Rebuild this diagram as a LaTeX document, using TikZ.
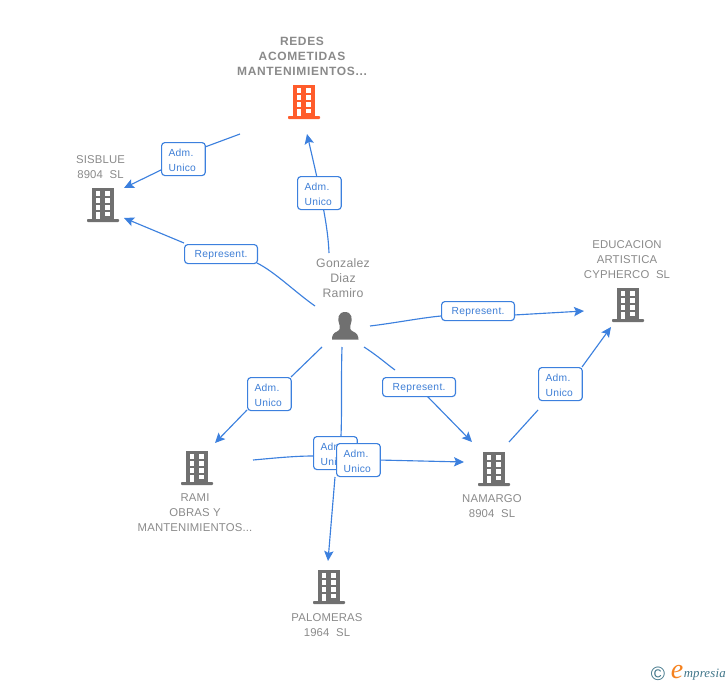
\documentclass[tikz,border=0pt]{standalone}
\usepackage{fontspec}
\usetikzlibrary{arrows.meta}
\setmainfont{Liberation Sans}
\newfontfamily\logoserif{Liberation Serif}
\definecolor{edgeblue}{HTML}{3C80DE}
\definecolor{labelblue}{HTML}{3F7FD6}
\definecolor{bgray}{HTML}{707070}
\definecolor{tgray}{HTML}{8A8A8A}
\definecolor{borange}{HTML}{FF5C2B}
\definecolor{logoblue}{HTML}{3E7488}
\definecolor{logoorange}{HTML}{F58220}
\newcommand{\admtxt}{\rule{0pt}{7.2pt}Adm.\\Unico}
\newcommand{\reptxt}{\rule{0pt}{6.6pt}Represent.}
\tikzset{
  conn/.style={draw=edgeblue,line width=0.85pt},
  arr/.style={conn,-{Stealth[length=7.5pt,width=7pt,inset=1.5pt]}},
  labbase/.style={draw=edgeblue,line width=0.85pt,fill=white,rounded corners=2.5pt,text=labelblue,inner ysep=0pt,anchor=north west},
  admlab/.style={labbase,font=\fontsize{7.7pt}{11.2pt}\selectfont\addfontfeature{LetterSpace=2.5},align=left,inner xsep=5.3pt,text width=22.2pt,minimum height=24.75pt},
  replab/.style={labbase,font=\fontsize{7.7pt}{9pt}\selectfont\addfontfeature{LetterSpace=3},align=center,inner xsep=0pt,text width=54.7pt,minimum height=14.25pt},
  nametext/.style={text=tgray,font=\fontsize{8.5pt}{11.2pt}\selectfont\addfontfeature{LetterSpace=1.5},align=center,inner sep=0pt},
  boldtext/.style={text=tgray,font=\fontsize{9pt}{11.2pt}\selectfont\bfseries\addfontfeature{LetterSpace=5.5},align=center,inner sep=0pt},
  persontext/.style={text=tgray,font=\fontsize{9.2pt}{11.2pt}\selectfont\addfontfeature{LetterSpace=2},align=center,inner sep=0pt},
  pics/bld/.style={code={
    \fill[#1] (-11,-17) rectangle (11,14.5);
    \fill[#1,rounded corners=0.6pt] (-16,14) rectangle (16,17);
    \foreach \yy in {-13.7,-6.7,0.3}{
      \fill[white] (-7.3,\yy) rectangle (-2.6,{\yy+4.6});
      \fill[white] (2.2,\yy) rectangle (6.9,{\yy+4.6});
    }
    \fill[white] (-7.3,6.8) rectangle (-2.6,14);
    \fill[white] (2.2,6.8) rectangle (6.9,11);
  }}
}
\begin{document}
\begin{tikzpicture}[x=0.75pt,y=-0.75pt]
\useasboundingbox (0,0) rectangle (728,685);
% named end points
\coordinate (p1a) at (329,253);
\coordinate (redesIn) at (307,134);
\coordinate (redesOut) at (240,134);
\coordinate (sisIn1) at (124,188);
\coordinate (sisIn2) at (124,218);
\coordinate (g1) at (315,306);
\coordinate (g2) at (370,326);
\coordinate (g3) at (322,347);
\coordinate (g4) at (364,347);
\coordinate (g5) at (342,347);
\coordinate (eduIn1) at (584,311);
\coordinate (eduIn2) at (611,327);
\coordinate (ramiIn) at (215,443);
\coordinate (ramiOut) at (253,460);
\coordinate (namIn1) at (472,442);
\coordinate (namIn2) at (464,462);
\coordinate (namOut) at (509,442);
\coordinate (palIn) at (328,561);
\coordinate (l2a) at (205,147);
\coordinate (l2b) at (161,170);
\coordinate (l3a) at (257,263);
\coordinate (l3b) at (184,243);
\coordinate (l4a) at (441,316);
\coordinate (l4b) at (514,315);
\coordinate (l5a) at (291,377);
\coordinate (l5b) at (247,410);
\coordinate (l6b) at (427,396);
\coordinate (l6a) at (395,370);
\coordinate (l7a) at (538,410);
\coordinate (l7b) at (582,367);
\coordinate (l8a) at (341,436);
\coordinate (l8b) at (313,456);
\coordinate (l9b) at (335,477);
% connectors under labels
\draw[arr] (p1a) .. controls (328,225) and (320,190) .. (redesIn);
\draw[conn] (redesOut) -- (l2a);
\draw[arr] (l2b) -- (sisIn1);
\draw[conn] (g1) .. controls (295,292) and (275,272) .. (l3a);
\draw[arr] (l3b) -- (sisIn2);
\draw[conn] (g2) .. controls (395,323) and (420,318) .. (l4a);
\draw[arr] (l4b) -- (eduIn1);
\draw[conn] (g3) -- (l5a);
\draw[arr] (l5b) -- (ramiIn);
\draw[conn] (g4) .. controls (378,356) and (388,365) .. (l6a);
\draw[arr] (l6b) -- (namIn1);
\draw[conn] (namOut) -- (l7a);
\draw[arr] (l7b) -- (eduIn2);
% labels
\node[admlab] (l1) at (297,176) {\admtxt};
\node[admlab] (l2) at (161,142) {\admtxt};
\node[replab] (l3) at (184,244) {\reptxt};
\node[replab] (l4) at (441,301) {\reptxt};
\node[admlab] (l5) at (247,377) {\admtxt};
\node[replab] (l6) at (382,377) {\reptxt};
\node[admlab] (l7) at (538,367) {\admtxt};
% overlapping pair
\draw[conn] (g5) .. controls (341,380) and (342,410) .. (l8a);
\draw[conn] (ramiOut) .. controls (275,458) and (295,456) .. (l8b);
\node[admlab] (l8) at (313,436) {\admtxt};
\draw[arr] (l9b) -- (palIn);
\node[admlab] (l9) at (336,443) {\admtxt};
\draw[arr] (l9.east) -- (namIn2);
% buildings
\path (304,102) pic {bld=borange};
\path (103,205) pic {bld=bgray};
\path (628,305) pic {bld=bgray};
\path (197,468) pic {bld=bgray};
\path (494,469) pic {bld=bgray};
\path (329,587) pic {bld=bgray};
% person
\fill[bgray] (345,312) .. controls (338,312) and (337,319) .. (339.5,325) .. controls (340.5,328) and (340,330) .. (337,331.5) .. controls (333,333) and (332,336) .. (332,339.5) -- (358.5,339.5) .. controls (358.5,336) and (357,333) .. (353,331.5) .. controls (350,330) and (349.5,328) .. (350.5,325) .. controls (353,319) and (352,312) .. (345,312) -- cycle;
% texts
\node[boldtext] (tredes) at (302,56) {REDES\\ACOMETIDAS\\MANTENIMIENTOS...};
\node[nametext] (tsis) at (100.5,167) {SISBLUE\\8904\ \ SL};
\node[persontext] (tgon) at (343,278) {Gonzalez\\Diaz\\Ramiro};
\node[nametext] (tedu) at (627,259.5) {EDUCACION\\ARTISTICA\\CYPHERCO\ \ SL};
\node[nametext] (trami) at (195,513) {RAMI\\OBRAS Y\\MANTENIMIENTOS...};
\node[nametext] (tnam) at (492,506.5) {NAMARGO\\8904\ \ SL};
\node[nametext] (tpal) at (327,625.5) {PALOMERAS\\1964\ \ SL};
% logo
\node[inner sep=0pt,text=logoblue,font=\fontsize{14.5pt}{14.5pt}\selectfont] (lc) at (658,674) {©};
\node[inner sep=0pt,text=logoorange,font=\fontsize{21pt}{21pt}\logoserif\itshape] (le) at (677,672) {e};
\node[inner sep=0pt,anchor=west,text=logoblue,font=\fontsize{9.6pt}{10pt}\logoserif\itshape\addfontfeature{LetterSpace=1.5}] (lm) at (683.5,675) {mpresia};
\end{tikzpicture}
\end{document}
